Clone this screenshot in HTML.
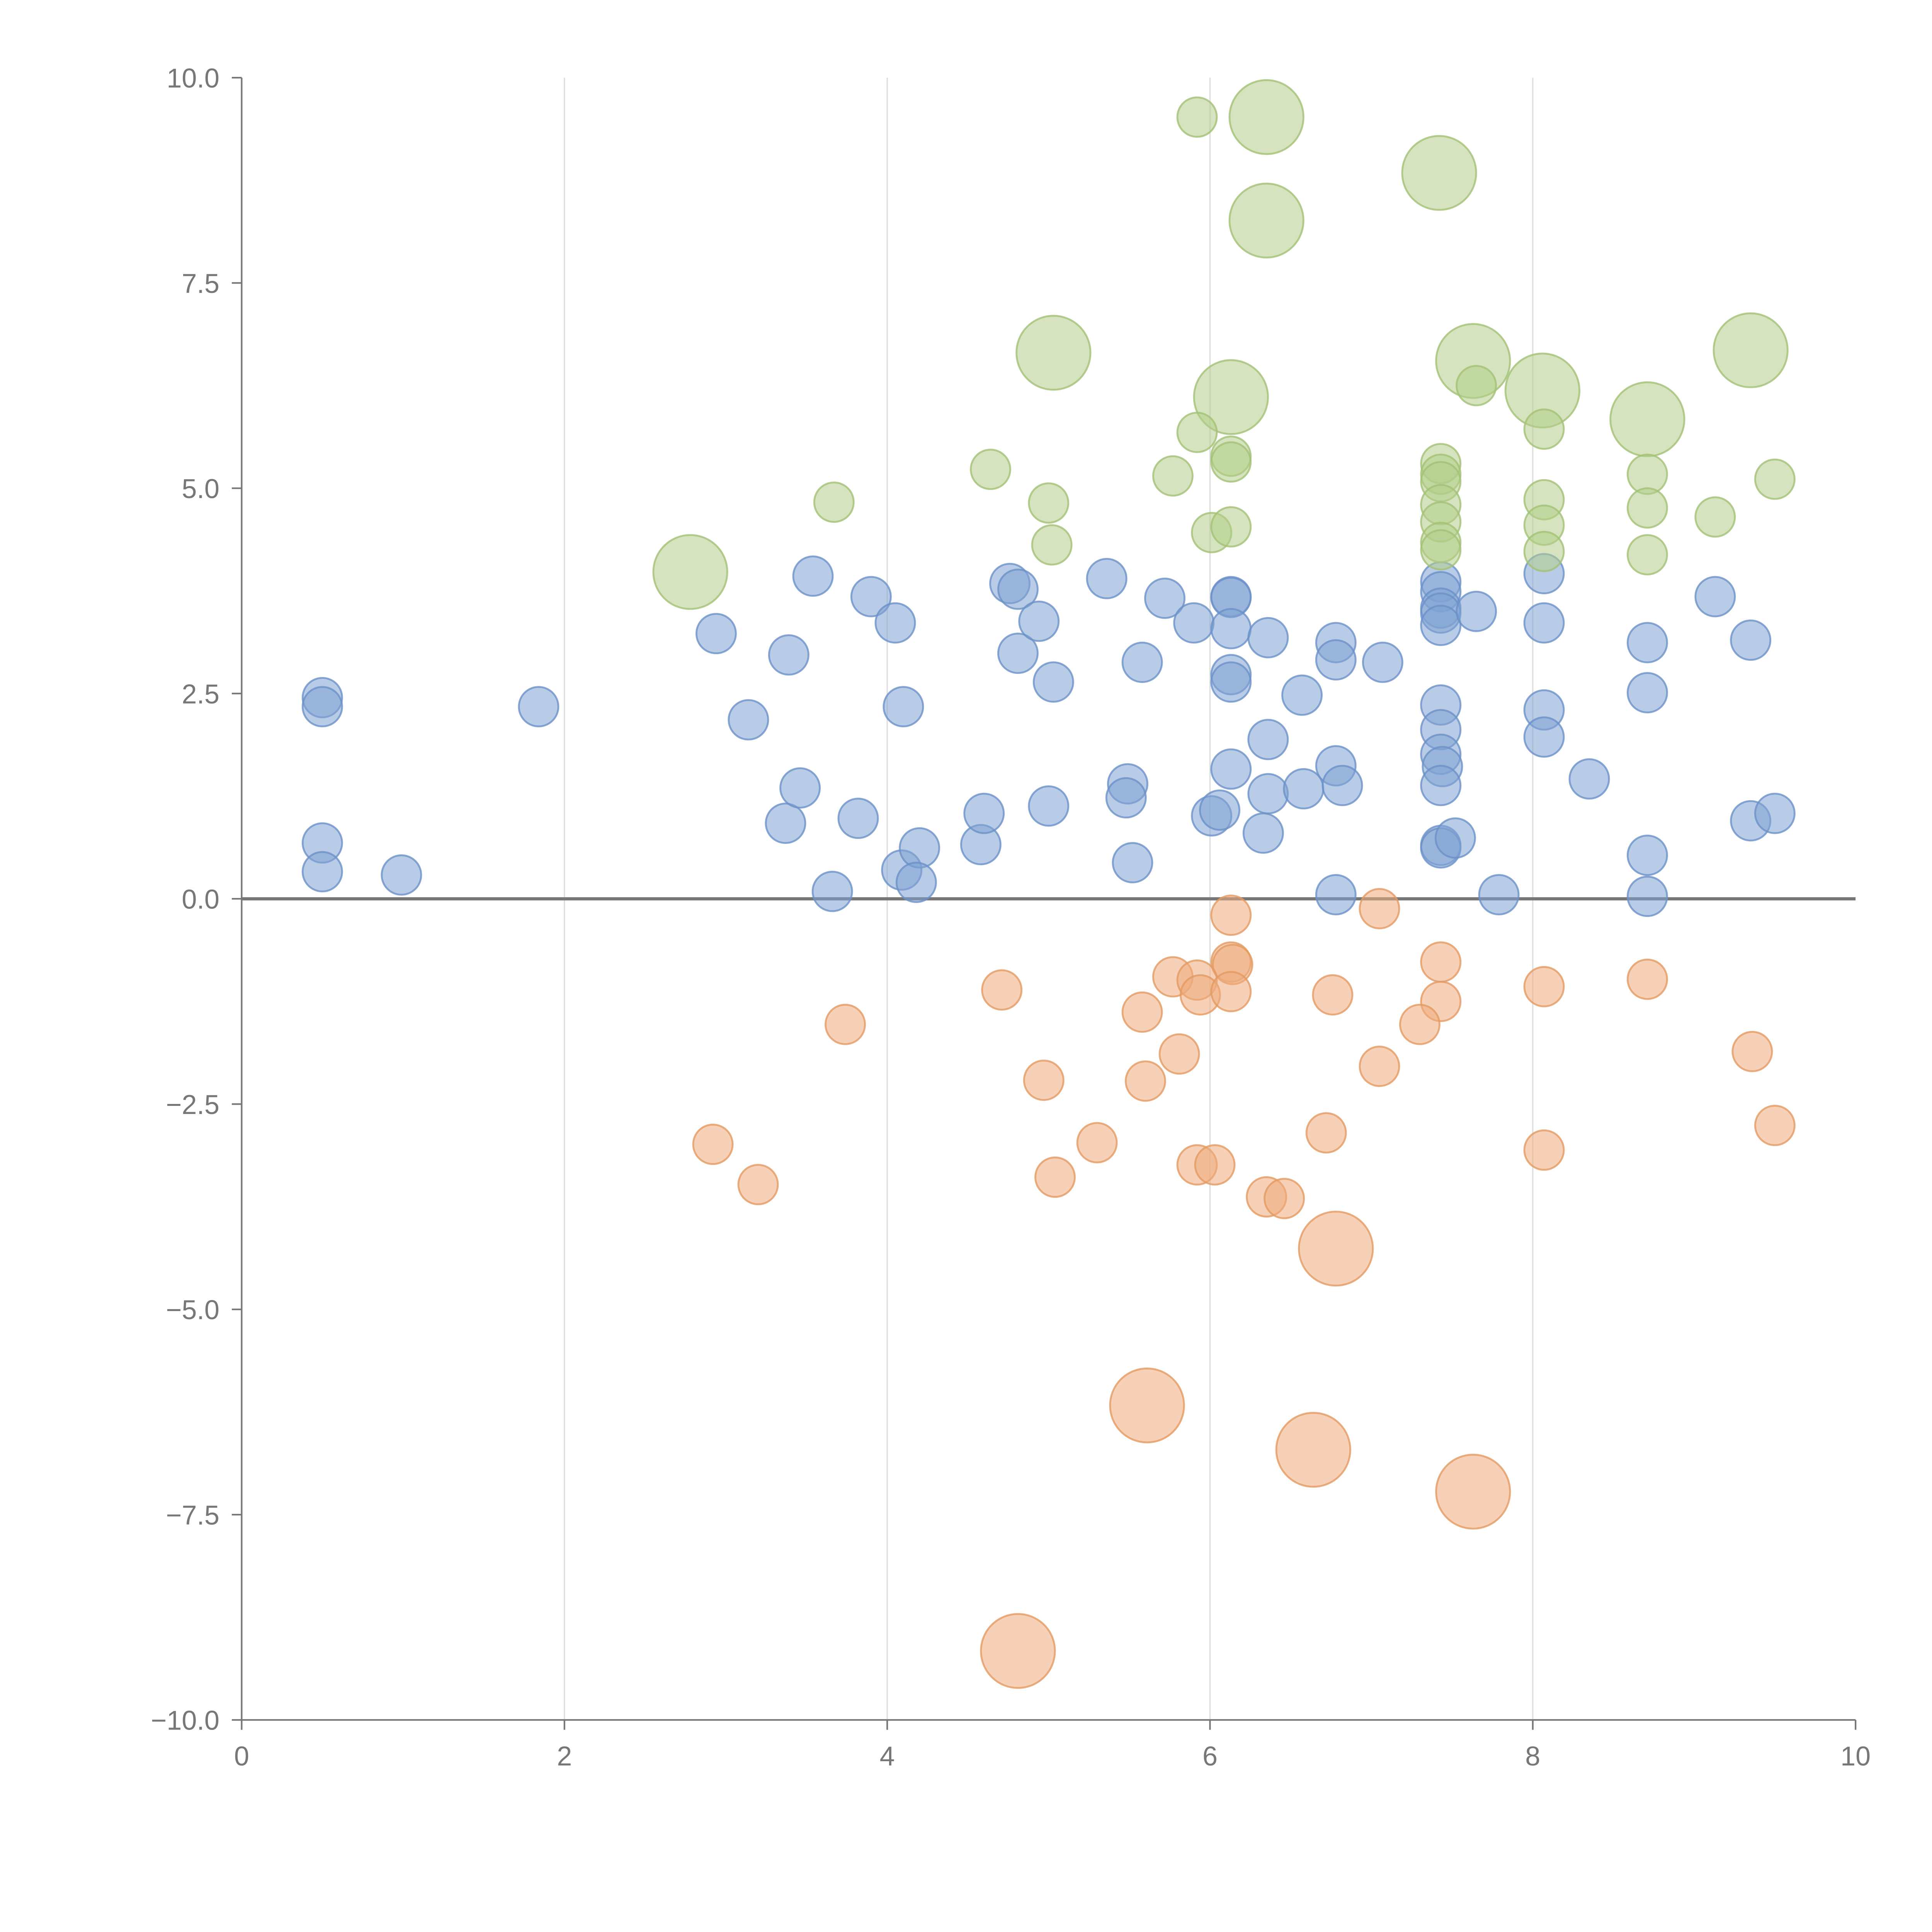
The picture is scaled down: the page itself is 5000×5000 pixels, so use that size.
<!DOCTYPE html>
<html><head><meta charset="utf-8"><style>
html,body{margin:0;padding:0;background:#fff;}
svg{display:block;}
text{font-family:"Liberation Sans",sans-serif;fill:#777;}
</style></head><body>
<svg id="chart" width="5000" height="5000" viewBox="0 0 1567 1567" xmlns="http://www.w3.org/2000/svg">
<g id="grid"></g>
<g id="axes"></g>
<g id="marks"></g>
</svg>
<script>
const xTicks=[0,2,4,6,8,10];
const yTicks=[-10,-7.5,-5,-2.5,0,2.5,5,7.5,10];
const yTickLabels=["\u221210.0","\u22127.5","\u22125.0","\u22122.5","0.0","2.5","5.0","7.5","10.0"];
const blueX=[0.50,0.50,0.50,0.50,0.99,1.84,2.94,3.14,3.39,3.37,3.46,3.54,3.66,3.82,3.90,4.05,4.10,4.09,4.20,4.18,4.58,4.60,4.76,4.81,4.81,4.94,5.00,5.03,5.36,5.49,5.48,5.52,5.58,5.72,5.90,6.01,6.06,6.13,6.13,6.13,6.13,6.13,6.13,6.36,6.36,6.36,6.33,6.57,6.58,6.78,6.78,6.78,6.82,6.78,7.07,7.43,7.43,7.43,7.43,7.43,7.43,7.43,7.43,7.44,7.43,7.43,7.43,7.52,7.65,7.79,8.07,8.07,8.07,8.07,8.35,8.71,8.71,8.71,8.71,9.13,9.35,9.35,9.50];
const blueY=[2.45,2.34,0.68,0.33,0.29,2.34,3.23,2.18,2.97,0.92,1.35,3.93,0.09,0.98,3.68,3.36,2.34,0.35,0.62,0.20,0.66,1.04,3.84,3.77,2.99,3.38,1.13,2.64,3.90,1.40,1.23,0.44,2.88,3.66,3.36,1.01,1.08,3.68,3.67,3.29,2.73,2.64,1.58,3.18,1.94,1.28,0.80,2.48,1.34,3.12,2.91,1.62,1.38,0.05,2.88,3.86,3.74,3.54,3.48,3.33,2.36,2.06,1.76,1.61,1.38,0.65,0.62,0.74,3.50,0.05,3.96,3.36,2.30,1.97,1.46,3.12,2.51,0.53,0.03,3.68,3.15,0.95,1.04];
const greenX=[2.78,5.03,6.35,6.35,7.42,6.13,7.63,8.06,8.71,9.35,5.92,3.67,4.64,5.00,5.02,5.77,5.92,6.01,6.13,6.13,6.13,7.43,7.43,7.43,7.43,7.43,7.43,7.43,7.65,8.07,8.07,8.07,8.07,8.71,8.71,8.71,9.13,9.50];
const greenY=[3.98,6.65,9.52,8.26,8.84,6.11,6.55,6.19,5.84,6.68,9.52,4.83,5.23,4.82,4.31,5.15,5.68,4.46,5.39,5.32,4.53,5.30,5.17,5.08,4.80,4.59,4.34,4.25,6.25,5.72,4.86,4.55,4.23,5.17,4.76,4.19,4.65,5.11];
const greenSize=[2,2,2,2,2,2,2,2,2,2,1,1,1,1,1,1,1,1,1,1,1,1,1,1,1,1,1,1,1,1,1,1,1,1,1,1,1,1];
const orangeX=[6.78,5.61,6.64,7.63,4.81,6.13,7.05,6.13,6.14,7.43,4.71,5.77,5.92,5.94,6.13,6.76,7.43,8.07,8.71,3.74,5.58,7.30,5.81,4.97,5.60,7.05,9.36,9.50,2.92,3.20,5.30,6.72,5.04,5.92,6.03,8.07,6.35,6.46];
const orangeY=[-4.26,-6.17,-6.71,-7.22,-9.16,-0.20,-0.12,-0.77,-0.80,-0.77,-1.11,-0.95,-0.99,-1.17,-1.13,-1.17,-1.25,-1.07,-0.98,-1.53,-1.38,-1.53,-1.89,-2.21,-2.22,-2.04,-1.86,-2.76,-2.99,-3.48,-2.97,-2.85,-3.39,-3.24,-3.24,-3.06,-3.63,-3.65];
const orangeSize=[2,2,2,2,2,1,1,1,1,1,1,1,1,1,1,1,1,1,1,1,1,1,1,1,1,1,1,1,1,1,1,1,1,1,1,1,1,1];

const NS="http://www.w3.org/2000/svg";
const X0=196,X1=1505,Y0=1395,Y1=63;
function sx(v){return X0+(v-0)/(10-0)*(X1-X0);}
function sy(v){return Y0-(v+10)/20*(Y0-Y1);}
function mk(tag,attrs,parent){const e=document.createElementNS(NS,tag);for(const k in attrs)e.setAttribute(k,attrs[k]);parent.appendChild(e);return e;}
const grid=document.getElementById('grid'),axes=document.getElementById('axes'),marks=document.getElementById('marks');

xTicks.forEach(t=>{
  if(t>0&&t<10){const l=mk('line',{x1:sx(t),x2:sx(t),y1:Y1,y2:Y0,stroke:'#ddd','stroke-width':1},grid);
  
  }
  const tk=mk('line',{x1:sx(t),x2:sx(t),y1:Y0,y2:Y0+8,stroke:'#777','stroke-width':1.3},axes);
  
  
  const tx=mk('text',{x:sx(t),y:Y0+37,'text-anchor':'middle','font-size':22},axes);
  tx.textContent=String(t);
  
  
});
yTicks.forEach((t,i)=>{
  const tk=mk('line',{x1:X0-8,x2:X0,y1:sy(t),y2:sy(t),stroke:'#777','stroke-width':1.3},axes);
  
  
  const tx=mk('text',{x:X0-18,y:sy(t)+8,'text-anchor':'end','font-size':22},axes);
  tx.textContent=yTickLabels[i];
  
  
});
let a=mk('line',{x1:X0,x2:X0,y1:Y1,y2:Y0,stroke:'#777','stroke-width':1.3},axes);


a=mk('line',{x1:X0,x2:X1,y1:Y0,y2:Y0,stroke:'#777','stroke-width':1.3},axes);


a=mk('line',{x1:X0,x2:X1,y1:sy(0),y2:sy(0),stroke:'#777','stroke-width':2.6},axes);



function drawSeries(xs,ys,sizes,fill,stroke,name){
  xs.forEach((x,i)=>{
    const big=sizes&&sizes[i]===2;
    const r=big?30:16;
    const c=mk('circle',{cx:sx(x),cy:sy(ys[i]),r:r,fill:fill,'fill-opacity':0.55,stroke:stroke,'stroke-opacity':0.8,'stroke-width':1.5},marks);
    
    
  });
}
drawSeries(blueX,blueY,null,'#7fa2d3','#6b91c8','blue-bubble');
drawSeries(greenX,greenY,greenSize,'#b3cd88','#a3c075','green-bubble');
drawSeries(orangeX,orangeY,orangeSize,'#eeac7c','#e39a62','orange-bubble');
</script>
</body></html>
